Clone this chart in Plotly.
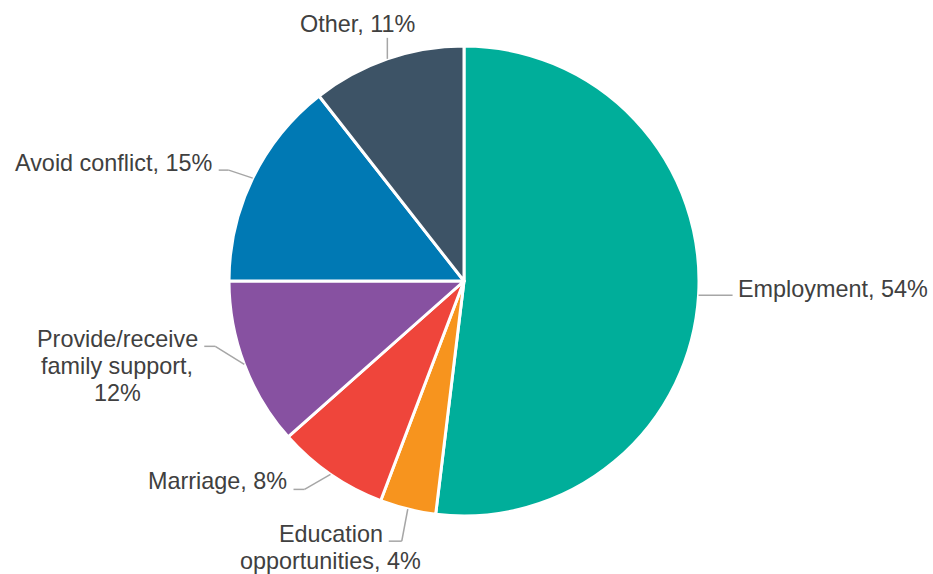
import math
import plotly.graph_objects as go

# Reasons given, share of respondents (%)
categories = ["Employment", "Education opportunities", "Marriage",
              "Provide/receive family support", "Avoid conflict", "Other"]
values = [54, 4, 8, 12, 15, 11]
label_lines = [
    ["Employment, 54%"],
    ["Education", "opportunities, 4%"],
    ["Marriage, 8%"],
    ["Provide/receive", "family support,", "12%"],
    ["Avoid conflict, 15%"],
    ["Other, 11%"],
]
colors = ["#00AE9A", "#F7941E", "#EF453B", "#8751A1", "#0079B4", "#3D5366"]

W, H = 933, 574
CX, CY, R = 464, 281, 235          # pie centre and radius in pixels
TEXT_COLOR = "#404040"
LINE_COLOR = "#A6A6A6"
FONT = "Liberation Sans, Arial, sans-serif"
FONT_SIZE = 23.4
LINE_GAP = 27

# Leader-line geometry per slice: elbow offsets from the slice edge,
# then where the label block sits relative to the line end.
# (elbow dx, elbow dy), (end dx, end dy) from elbow, text anchor, text offset
leader_style = [
    ((0, 0), (34, 0), "left", (3, -6)),
    ((-6, 32), (-13, 0), "center", (-58, -7)),
    ((-26, 15), (-11, 0), "right", (-5, -8)),
    ((-29, -18), (-11, 0), "center", (-87, -7)),
    ((-24, -8), (-10, 0), "right", (-5, -7)),
    ((0, -21), (0, 0), "center", (-30, -14)),
]


def px(x):
    return x / W


def py(y):
    return 1 - y / H


fig = go.Figure(go.Pie(
    labels=categories,
    values=values,
    sort=False,
    direction="clockwise",
    rotation=0,
    marker=dict(colors=colors, line=dict(color="white", width=3)),
    textinfo="none",
    hoverinfo="label+value",
    showlegend=False,
    domain=dict(x=[px(CX - R), px(CX + R)], y=[py(CY + R), py(CY - R)]),
))

total = sum(values)
shapes, annotations = [], []
cum = 0
for i, v in enumerate(values):
    mid = (cum + v / 2) / total * 2 * math.pi
    cum += v
    ax = CX + R * math.sin(mid)
    ay = CY - R * math.cos(mid)
    (edx, edy), (ndx, ndy), anchor, (tdx, tdy) = leader_style[i]
    ex, ey = ax + edx, ay + edy
    nx, ny = ex + ndx, ey + ndy
    for (x0, y0, x1, y1) in [(ax, ay, ex, ey), (ex, ey, nx, ny)]:
        if abs(x1 - x0) + abs(y1 - y0) < 0.5:
            continue
        shapes.append(dict(type="line", xref="paper", yref="paper",
                           x0=px(x0), y0=py(y0), x1=px(x1), y1=py(y1),
                           line=dict(color=LINE_COLOR, width=1.5)))
    lines = label_lines[i]
    tx, ty = nx + tdx, ny + tdy
    for k, line in enumerate(lines):
        annotations.append(dict(
            x=px(tx), y=py(ty + k * LINE_GAP), xref="paper", yref="paper",
            text=line, showarrow=False, xanchor=anchor, yanchor="middle",
            font=dict(family=FONT, size=FONT_SIZE, color=TEXT_COLOR),
        ))

fig.update_layout(
    width=W, height=H,
    margin=dict(l=0, r=0, t=0, b=0),
    paper_bgcolor="white",
    plot_bgcolor="white",
    shapes=shapes,
    annotations=annotations,
)

fig.write_html("out.html")
